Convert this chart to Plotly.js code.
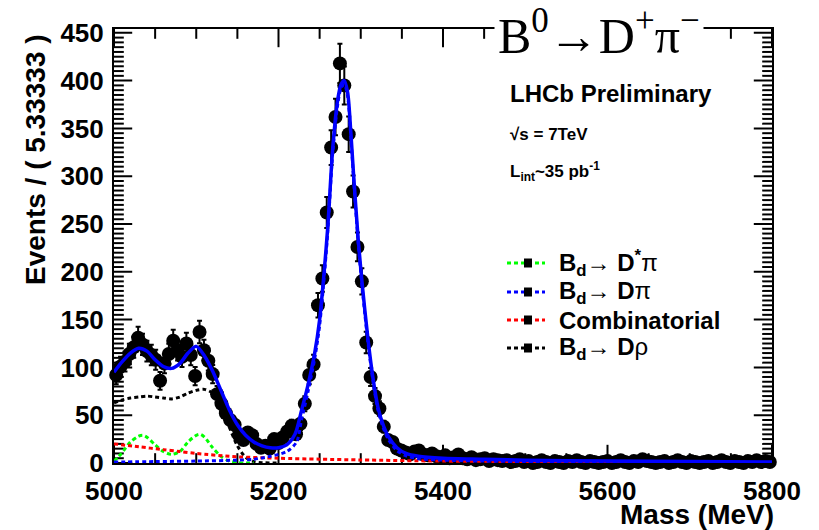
<!DOCTYPE html>
<html>
<head>
<meta charset="utf-8">
<script src="https://cdn.plot.ly/plotly-3.0.1.min.js"></script>
<style>html,body{margin:0;padding:0;background:#fff;}#chart{width:819px;height:530px;}</style>
</head>
<body>
<div id="chart"></div>
<script>
// ---- binning of the data histogram ----
const massLow = 5000;
const massHigh = 5800;
const nBins = 150;

// ---- data: events per bin ----
const binCounts = [
  92,101,106,114,121,131,124,117,113,108,
  86,104,114,128,118,111,125,113,91,137,
  118,107,93,72,62,52,45,40,29,24,
  32,29,20,16,18,15,25,21,27,33,
  39,30,41,62,92,103,165,193,262,330,
  362,418,395,344,284,226,190,126,90,70,
  57,38,24,22,15,13,11,9,12,13,
  9,8,10,7,6,8,5,6,9,5,
  4,6,3,4,5,2,4,3,2,3,
  1,2,4,1,2,0,1,3,1,0,
  2,1,0,2,1,3,1,0,2,1,
  0,1,2,0,1,3,1,0,2,1,
  4,2,1,0,1,2,0,1,3,1,
  0,2,1,0,1,2,0,1,3,1,
  0,2,1,0,2,1,3,1,2,1
];

// ---- fit: total PDF (solid blue) ----
const totalMass = [5000,5010,5020,5030,5040,5050,5060,5070,5080,5090,5100,5110,5120,5130,5140,5150,5160,5170,5180,5190,5200,5210,5220,5228,5236,5244,5250,5255,5260,5266,5272,5276,5280,5284,5288,5291,5297,5302,5309,5315,5321,5328,5334,5344,5355,5370,5400,5450,5500,5600,5700,5800];
const totalFit  = [95,106,115,120,117,108,101,99,104,115,122,112,96,76,56,40,29,22,18,16,16,19,30,55,82,115,150,195,248,330,380,396,400,388,345,305,233,185,128,88,58,38,27,16,10,7,5,4,3,2,1.5,1];

// ---- component: Bd -> D* pi (green dotted) ----
const dstarMass = [5000,5005,5010,5020,5030,5035,5040,5050,5060,5070,5080,5090,5100,5105,5110,5120,5130,5140,5150,5160,5170];
const dstarFit  = [2,6,11,22,28,29,27,19,12,9,12,22,29,30,27,16,7,2,0.5,0,0];

// ---- component: Bd -> D pi signal (blue dotted) ----
const sigMass = [5000,5050,5100,5150,5170,5190,5210,5222,5228,5236,5244,5250,5255,5260,5266,5272,5276,5280,5284,5288,5291,5297,5302,5309,5315,5321,5328,5334,5344,5355,5370,5400,5450,5500,5600,5700,5800];
const sigFit  = [1,1.5,2,3,4,7,12,22,45,75,109,144,189,243,325,375,392,396,384,341,301,229,181,124,85,55,35,24,13,7.5,4.5,3,2,1.5,1,0.7,0.4];

// ---- component: combinatorial (red dotted) ----
const combMass = [5000,5030,5060,5080,5100,5150,5200,5250,5300,5400,5500,5600,5700,5800];
const combFit  = [20,17,14,12,10,6.5,5,4,3.2,2,1.5,1.1,0.8,0.6];

// ---- component: Bd -> D rho (black dotted) ----
const drhoMass = [5000,5010,5020,5030,5040,5050,5060,5070,5080,5090,5100,5110,5120,5130,5140,5150,5160,5170,5180,5200];
const drhoFit  = [63,66,68,69,70,69,68,67,69,73,76,77,73,60,38,18,6,1.5,0.3,0];

// ---- texts ----
const yTitle = "Events / ( 5.33333 )";
const xTitle = "Mass (MeV)";
const plotTitle = "B<sup>0</sup>\u2192D<sup>+</sup>\u03c0<sup>\u2212</sup>";
const legendTexts = [
  "B<sub>d</sub>\u2192 D<sup>*</sup><span style=\"font-weight:normal\">\u03c0</span>",
  "B<sub>d</sub>\u2192 D<span style=\"font-weight:normal\">\u03c0</span>",
  "Combinatorial",
  "B<sub>d</sub>\u2192 D<span style=\"font-weight:normal\">\u03c1</span>"
];

// ---- axis tick steps ----
const xMajorStep = 200, xMinorStep = 50;
const yMajorStep = 50, yMinorStep = 5, yMax = 454;

// ---- derived ----
const binWidth = (massHigh - massLow) / nBins;
const binCenters = binCounts.map((_, i) => massLow + (i + 0.5) * binWidth);
const binErrors = binCounts.map(v => Math.sqrt(v));

const xMajor = [], xMinor = [], yMajor = [], yMinor = [];
for (let v = massLow; v <= massHigh; v += xMinorStep) ((v - massLow) % xMajorStep === 0 ? xMajor : xMinor).push(v);
for (let v = 0; v <= yMax; v += yMinorStep) (v % yMajorStep === 0 ? yMajor : yMinor).push(v);

// ---- geometry (pixels) ----
const L = 114, R = 772, T = 29, B = 463;
const px = x => (x - L) / (R - L);
const py = y => (B - y) / (B - T);

const GREEN = '#00ff00', BLUE = '#0000ff', RED = '#ff0000', BLACK = '#000000';
const DOT = '4px,3px';
const sans = 'Liberation Sans, Arial, Helvetica, sans-serif';

// frame ticks: line markers centred on the frame edges, the outer half clipped by the plot area
function tickTrace(xs, ys, symbol, len) {
  return {x: xs, y: ys, type: 'scatter', mode: 'markers', cliponaxis: true, hoverinfo: 'skip',
    marker: {symbol: symbol, size: 2 * len, color: BLACK, line: {color: BLACK, width: 2}}};
}
const fill = (n, v) => new Array(n).fill(v);

const traces = [
  tickTrace(xMajor, fill(xMajor.length, 0), 'line-ns-open', 13),
  tickTrace(xMinor, fill(xMinor.length, 0), 'line-ns-open', 7),
  tickTrace(xMajor, fill(xMajor.length, yMax), 'line-ns-open', 13),
  tickTrace(xMinor, fill(xMinor.length, yMax), 'line-ns-open', 7),
  tickTrace(fill(yMajor.length, massLow), yMajor, 'line-ew-open', 13),
  tickTrace(fill(yMinor.length, massLow), yMinor, 'line-ew-open', 7),
  tickTrace(fill(yMajor.length, massHigh), yMajor, 'line-ew-open', 13),
  tickTrace(fill(yMinor.length, massHigh), yMinor, 'line-ew-open', 7),
  {x: binCenters, y: binCounts, type: 'scatter', mode: 'markers', cliponaxis: false,
   marker: {symbol: 'circle', size: 14, color: BLACK},
   error_y: {type: 'data', array: binErrors, visible: true, color: BLACK, thickness: 2, width: 2.5},
   hoverinfo: 'skip'},
  {x: drhoMass, y: drhoFit, mode: 'lines', line: {color: BLACK, width: 3, dash: DOT, shape: 'spline', smoothing: 0.8}},
  {x: dstarMass, y: dstarFit, mode: 'lines', line: {color: GREEN, width: 3, dash: DOT, shape: 'spline', smoothing: 0.8}},
  {x: combMass, y: combFit, mode: 'lines', line: {color: RED, width: 3, dash: DOT, shape: 'spline', smoothing: 0.8}},
  {x: sigMass, y: sigFit, mode: 'lines', line: {color: BLUE, width: 3, dash: DOT, shape: 'spline', smoothing: 0.8}},
  {x: totalMass, y: totalFit, mode: 'lines', line: {color: BLUE, width: 3.5, shape: 'spline', smoothing: 0.8}}
];

const shapes = [];
const annotations = [];

const legendRows = [263, 292, 320, 348];
const legendColors = [GREEN, BLUE, RED, BLACK];
legendRows.forEach((yy, k) => {
  shapes.push({type: 'line', xref: 'paper', yref: 'paper', x0: px(507), x1: px(545), y0: py(yy), y1: py(yy),
    line: {color: legendColors[k], width: 3, dash: DOT}});
  shapes.push({type: 'rect', xref: 'paper', yref: 'paper', x0: px(524), x1: px(532), y0: py(yy + 4.5), y1: py(yy - 4.5),
    fillcolor: BLACK, line: {width: 0}});
  annotations.push({text: legendTexts[k], xref: 'paper', yref: 'paper', x: px(557), y: py(yy), xanchor: 'left', yanchor: 'middle',
    showarrow: false, font: {family: sans, size: 24, weight: 'bold', color: BLACK}});
});

annotations.push(
  {text: plotTitle, xref: 'paper', yref: 'paper', x: px(494), y: py(33), xanchor: 'left', yanchor: 'middle',
   showarrow: false, bgcolor: '#ffffff', borderpad: 3,
   font: {family: 'Liberation Serif, Times New Roman, serif', size: 50, color: BLACK}},
  {text: 'LHCb Preliminary', xref: 'paper', yref: 'paper', x: px(508), y: py(93), xanchor: 'left', yanchor: 'middle',
   showarrow: false, font: {family: sans, size: 24, weight: 'bold', color: BLACK}},
  {text: '\u221As = 7TeV', xref: 'paper', yref: 'paper', x: px(508), y: py(134), xanchor: 'left', yanchor: 'middle',
   showarrow: false, font: {family: sans, size: 17, weight: 'bold', color: BLACK}},
  {text: 'L<sub>int</sub>~35 pb<sup>-1</sup>', xref: 'paper', yref: 'paper', x: px(508), y: py(172), xanchor: 'left', yanchor: 'middle',
   showarrow: false, font: {family: sans, size: 17, weight: 'bold', color: BLACK}},
  {text: yTitle, xref: 'paper', yref: 'paper', x: px(35), y: py(160), xanchor: 'center', yanchor: 'middle', textangle: -90,
   showarrow: false, font: {family: sans, size: 28, weight: 'bold', color: BLACK}},
  {text: xTitle, xref: 'paper', yref: 'paper', x: px(776), y: py(514), xanchor: 'right', yanchor: 'middle',
   showarrow: false, font: {family: sans, size: 28, weight: 'bold', color: BLACK}}
);

const axisCommon = {
  showgrid: false, zeroline: false,
  showline: true, linewidth: 2, linecolor: BLACK, mirror: true,
  ticks: '', tickfont: {family: sans, size: 26, weight: 'bold', color: BLACK}
};

const layout = {
  width: 819, height: 530,
  margin: {l: L, r: 819 - R, t: T, b: 530 - B, pad: 0},
  paper_bgcolor: '#ffffff', plot_bgcolor: '#ffffff',
  showlegend: false,
  xaxis: Object.assign({}, axisCommon, {range: [massLow, massHigh], tickmode: 'linear', tick0: massLow, dtick: xMajorStep, ticklabelstandoff: 4}),
  yaxis: Object.assign({}, axisCommon, {range: [0, yMax], tickmode: 'linear', tick0: 0, dtick: yMajorStep, ticklabelstandoff: 3}),
  shapes: shapes,
  annotations: annotations
};

Plotly.newPlot('chart', traces, layout, {displayModeBar: false});
</script>
</body>
</html>
